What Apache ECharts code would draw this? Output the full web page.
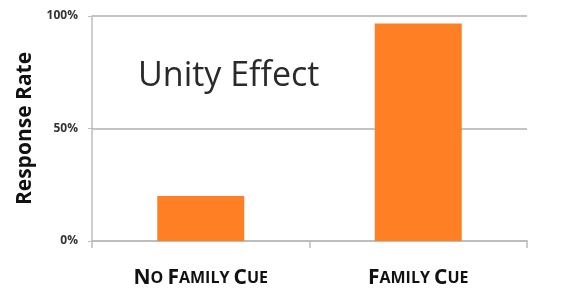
<!DOCTYPE html>
<html><head><meta charset="utf-8">
<script src="https://cdn.jsdelivr.net/npm/echarts@6/dist/echarts.min.js"></script>
<style>html,body{margin:0;padding:0;background:#fff}#c{width:561px;height:299px}</style>
</head><body><div id="c"></div>
<script>
const categories = ['No Family Cue', 'Family Cue'];
const responseRate = [20, 96.7];
const yTicks = [0, 50, 100];

function smallCaps(s){
  return s.split(' ').map(w => '{b|' + w[0].toUpperCase() + '}{s|' + w.slice(1).toUpperCase() + '}').join('{s| }');
}

const chart = echarts.init(document.getElementById('c'));
chart.setOption({
  animation: false,
  title: {
    text: 'Unity Effect', left: 133, top: 54,
    textStyle: {fontFamily: 'Open Sans', fontWeight: 'normal', fontSize: 34, color: '#2a2a2a'}
  },
  grid: {left: 92, right: 34, top: 16, bottom: 58},
  xAxis: {
    type: 'category', data: categories,
    axisLine: {lineStyle: {color: '#bdbdbd', width: 2}},
    axisTick: {show: true, length: 7, lineStyle: {color: '#bdbdbd', width: 1.5}},
    axisLabel: {
      margin: 27, interval: 0,
      formatter: v => smallCaps(v),
      rich: {
        b: {fontFamily: 'Open Sans', fontWeight: 'bold', fontSize: 21, color: '#111'},
        s: {fontFamily: 'Open Sans', fontWeight: 'bold', fontSize: 16, color: '#111'}
      }
    }
  },
  yAxis: {
    type: 'value', min: 0, max: 100, interval: 50,
    name: 'Response Rate', nameLocation: 'middle', nameGap: 51, nameRotate: 90,
    nameTextStyle: {fontFamily: 'Open Sans', fontWeight: 'bold', fontSize: 21, color: '#111'},
    axisLine: {show: true, lineStyle: {color: '#bdbdbd', width: 1.5}},
    axisTick: {show: true, inside: false, length: 4, lineStyle: {color: '#bdbdbd'}},
    splitLine: {lineStyle: {color: '#c4c4c4', width: 2}},
    axisLabel: {
      margin: 14,
      formatter: v => yTicks.includes(v) ? v + '%' : '',
      fontFamily: 'Open Sans', fontWeight: 'bold', fontSize: 12, color: '#333'
    }
  },
  series: [{
    type: 'bar', data: responseRate, barWidth: '40%',
    itemStyle: {color: '#FE7F24'}
  }]
});
</script></body></html>
